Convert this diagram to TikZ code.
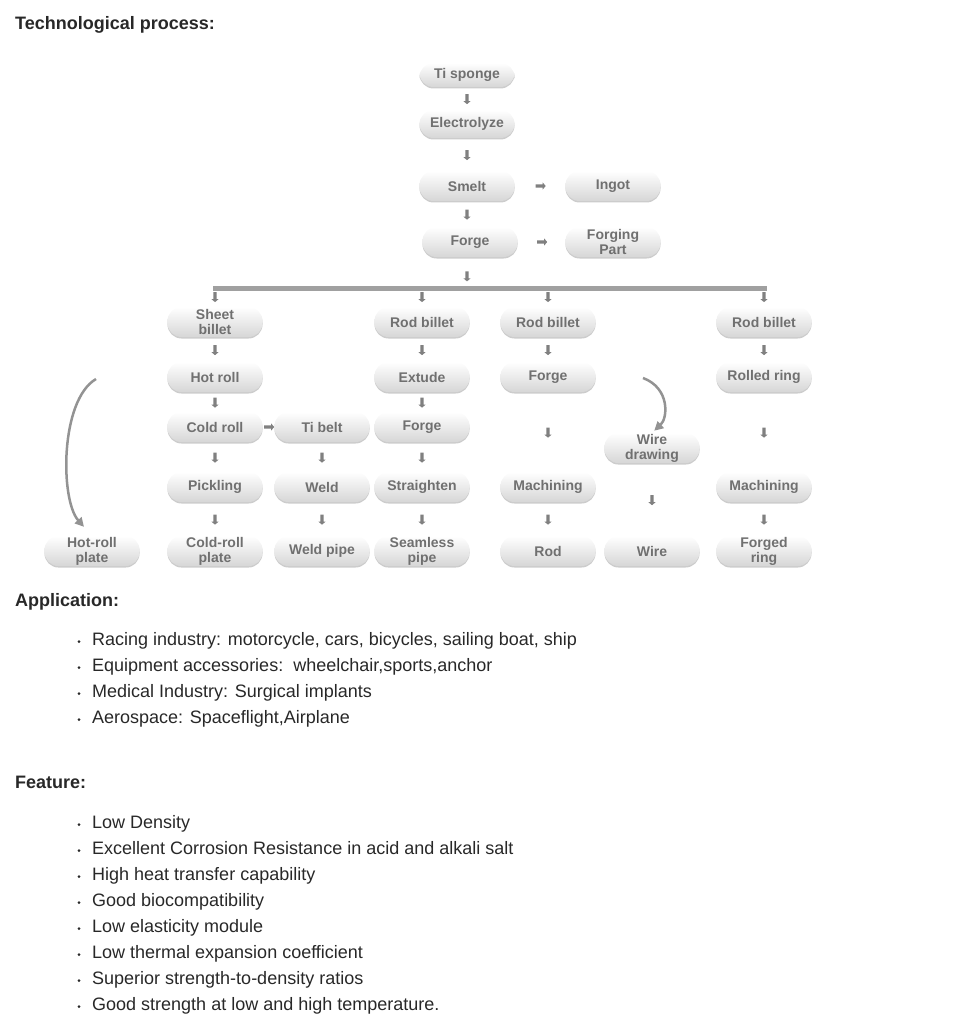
\documentclass[tikz,border=0pt]{standalone}
\usepackage{fontspec}
\setmainfont{Liberation Sans}
\usetikzlibrary{shapes.arrows,shadows,arrows.meta}
\definecolor{boxtext}{RGB}{112,112,112}
\definecolor{bodytext}{RGB}{40,40,40}
\definecolor{arrgray}{RGB}{128,128,128}
\definecolor{bargray}{RGB}{160,160,160}
\begin{document}
\begin{tikzpicture}[x=1pt,y=-1pt,
    proc/.style={rounded corners=14pt,minimum width=95pt,minimum height=30pt,inner sep=1pt,
      align=center,top color=white,bottom color=black!16,draw=none,
      drop shadow={shadow xshift=0pt,shadow yshift=-1.5pt,opacity=.4},
      text=boxtext,font=\bfseries\fontsize{14}{15}\selectfont},
    darr/.style={single arrow,fill=arrgray,draw=none,minimum height=10pt,inner sep=1.4pt,
      single arrow head extend=2pt,single arrow tip angle=100,sloped},
    curvearr/.style={arrgray!85,line width=2.5pt,-{Triangle[length=9pt,width=9pt]}},
    head/.style={anchor=base west,inner sep=0pt,text=bodytext,font=\bfseries\fontsize{18}{20}\selectfont},
    item/.style={anchor=base west,text=bodytext,font=\fontsize{18}{20}\selectfont,inner sep=0pt},
    dot/.style={circle,fill=bodytext,inner sep=0pt,minimum size=3pt}]
  \useasboundingbox (0,0) rectangle (953,1024);
  \node[head] (title) at (15,30) {Technological process:};
  % main line
  \node[proc,minimum height=24pt] (tisponge) at (467,75) {Ti sponge};
  \node[proc,minimum height=28pt] (electro) at (467,124) {Electrolyze};
  \node[proc] (smelt) at (467,186) {Smelt};
  \node[proc] (ingot) at (613,186) {Ingot};
  \node[proc] (forge) at (470,242) {Forge};
  \node[proc] (fpart) at (613,242) {Forging\\Part};
  \path (tisponge) -- node[darr]{} (electro);
  \path (electro) -- node[darr]{} (smelt);
  \path (smelt) -- node[darr]{} (smelt|-forge.north);
  \path (smelt) -- node[darr]{} (ingot);
  \path (forge) -- node[darr]{} (fpart);
  % bar
  \coordinate (barL) at (213,288);
  \coordinate (barR) at (767,288);
  \coordinate (barM) at (467,288);
  \draw[bargray,line width=5pt] (barL) -- (barR);
  \path (smelt|-forge.south) -- node[darr,pos=.6]{} (barM);
  % billets
  \node[proc] (sheet) at (215,322) {Sheet\\billet};
  \node[proc] (rodA) at (422,322) {Rod billet};
  \node[proc] (rodB) at (548,322) {Rod billet};
  \node[proc] (rodC) at (764,322) {Rod billet};
  \foreach \n in {sheet,rodA,rodB,rodC}
    \path (\n.north|-barL) -- node[darr,pos=.45]{} (\n.north);
  % sheet line
  \node[proc] (hotroll) at (215,377) {Hot roll};
  \node[proc] (coldroll) at (215,427) {Cold roll};
  \node[proc] (pickling) at (215,487) {Pickling};
  \node[proc] (crplate) at (215,551) {Cold-roll\\plate};
  \node[proc] (hrplate) at (92,551) {Hot-roll\\plate};
  \node[proc] (tibelt) at (322,427) {Ti belt};
  \node[proc] (weld) at (322,487) {Weld};
  \node[proc] (weldpipe) at (322,551) {Weld pipe};
  % rod lines
  \node[proc] (extude) at (422,377) {Extude};
  \node[proc] (forgeC) at (422,427) {Forge};
  \node[proc] (straight) at (422,487) {Straighten};
  \node[proc] (seamless) at (422,551) {Seamless\\pipe};
  \node[proc] (forgeB) at (548,377) {Forge};
  \node[proc] (machB) at (548,487) {Machining};
  \node[proc] (rod) at (548,551) {Rod};
  \node[proc] (wired) at (652,448) {Wire\\drawing};
  \node[proc] (wire) at (652,551) {Wire};
  \node[proc] (rolled) at (764,377) {Rolled ring};
  \node[proc] (machC) at (764,487) {Machining};
  \node[proc] (fring) at (764,551) {Forged\\ring};
  \foreach \a/\b in {sheet/hotroll,hotroll/coldroll,coldroll/pickling,pickling/crplate,
      tibelt/weld,weld/weldpipe,rodA/extude,extude/forgeC,forgeC/straight,straight/seamless,
      rodB/forgeB,forgeB/machB,machB/rod,wired/wire,rodC/rolled,rolled/machC,machC/fring}
    \path (\a.south) -- node[darr]{} (\b.north);
  \path (coldroll.east) -- node[darr]{} (tibelt.west);
  % bent arrows
  \coordinate (hrtop) at (96,379);
  \draw[curvearr,shorten >=12pt] (hrtop) .. controls (60,400) and (60,500) .. (hrplate.north);
  \coordinate (wdtop) at (643,378);
  \draw[curvearr,shorten >=3pt] (wdtop) .. controls (670,388) and (668,418) .. (wired.north);
  % lists
  \node[head] (apphead) at (15,606) {Application:};
  \foreach \t [count=\i] in {{Racing industry: motorcycle, cars, bicycles, sailing boat, ship},
      {Equipment accessories:\ \ wheelchair,sports,anchor},
      {Medical Industry: Surgical implants},{Aerospace: Spaceflight,Airplane}}{
    \node[dot] (appdot\i) at (79,615.5+26*\i) {};
    \node[item] (app\i) at (92,619+26*\i) {\t};}
  \node[head] (feathead) at (15,788) {Feature:};
  \foreach \t [count=\i] in {{Low Density},{Excellent Corrosion Resistance in acid and alkali salt},
      {High heat transfer capability},{Good biocompatibility},{Low elasticity module},
      {Low thermal expansion coefficient},{Superior strength-to-density ratios},
      {Good strength at low and high temperature.}}{
    \node[dot] (featdot\i) at (79,798.5+26*\i) {};
    \node[item] (feat\i) at (92,802+26*\i) {\t};}
\end{tikzpicture}
\end{document}
